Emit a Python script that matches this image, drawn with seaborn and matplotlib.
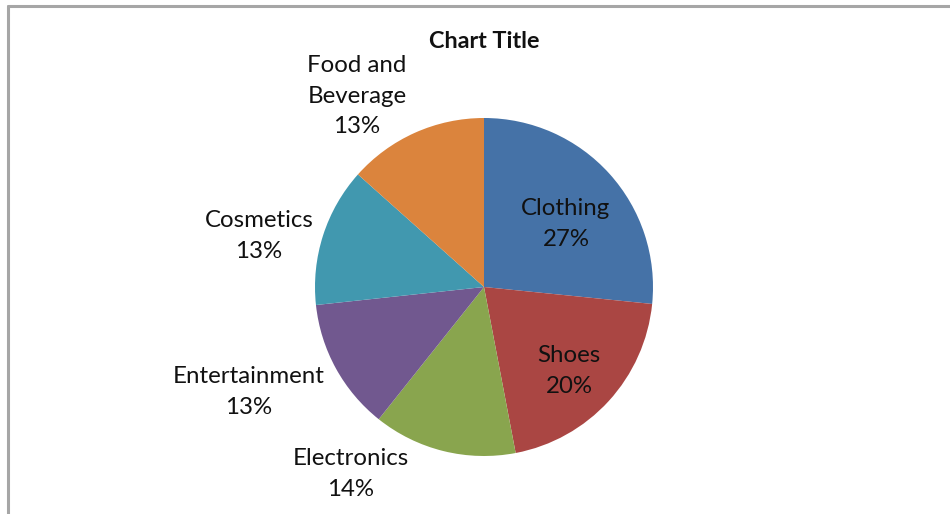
import matplotlib
matplotlib.use("Agg")
import matplotlib.pyplot as plt
import seaborn as sns
from matplotlib.lines import Line2D

categories = ["Clothing", "Shoes", "Electronics", "Entertainment", "Cosmetics", "Food and\nBeverage"]
shares = [26.6, 20.4, 13.7, 12.6, 13.3, 13.4]
percent_labels = ["27%", "20%", "14%", "13%", "13%", "13%"]
colors = ["#4572A7", "#AA4643", "#89A54E", "#71588F", "#4198AF", "#DB843D"]

# label anchors in pie-radius units (Excel "best fit" placement)
label_pos = [(0.485, 0.373), (0.503, -0.497), (-0.787, -1.107),
             (-1.391, -0.621), (-1.331, 0.302), (-0.751, 1.130)]

sns.set_theme(style="white")
plt.rcParams["font.family"] = ["Lato", "DejaVu Sans"]

W, H, DPI = 950, 514, 100
R = 169.0           # pie radius in px
CX, CY = 484, 287   # pie centre in px (from top-left)

fig = plt.figure(figsize=(W / DPI, H / DPI), dpi=DPI)
ax = fig.add_axes([0, 0, 1, 1])

ax.pie(shares, colors=colors, startangle=90, counterclock=False,
       radius=1.0, wedgeprops={"linewidth": 0})

for name, pct, (x, y) in zip(categories, percent_labels, label_pos):
    ax.text(x, y, f"{name}\n{pct}", ha="center", va="center",
            fontsize=17.3, color="#111111", linespacing=1.55)

ax.set_xlim(-CX / R, (W - CX) / R)
ax.set_ylim(-(H - CY) / R, CY / R)
ax.set_aspect("equal", adjustable="box")
ax.axis("off")

ax.text(0, (CY - 42) / R, "Chart Title", ha="center", va="center",
        fontsize=16.8, fontweight="bold", color="#111111")

# chart-area border (only left and top visible in the crop)
border = "#A6A6A6"
fig.add_artist(Line2D([8 / W, 8 / W], [0, 1 - 6 / H], color=border, lw=2.2,
                      transform=fig.transFigure))
fig.add_artist(Line2D([8 / W, 1], [1 - 6 / H, 1 - 6 / H], color=border, lw=2.2,
                      transform=fig.transFigure))

fig.savefig("out.png", dpi=DPI, facecolor="white")
plt.close(fig)
